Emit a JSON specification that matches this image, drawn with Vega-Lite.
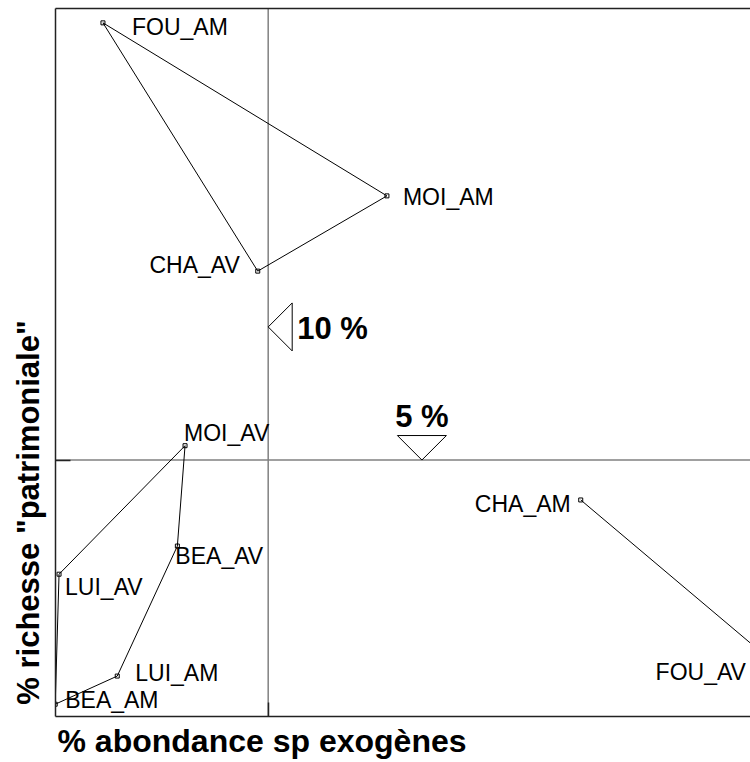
{
  "$schema": "https://vega.github.io/schema/vega-lite/v6.json",
  "width": 695,
  "height": 708,
  "autosize": {"type": "none"},
  "padding": {"left": 55, "top": 8, "right": 0, "bottom": 46},
  "background": "white",
  "config": {"view": {"stroke": null}, "text": {"font": "Liberation Sans", "fontSize": 23, "color": "black"}},
  "resolve": {"axis": {"x": "independent", "y": "independent"}},
  "datasets": {
    "pts": [
      {"name": "FOU_AM", "x": 2.25, "y": 13.54},
      {"name": "MOI_AM", "x": 15.57, "y": 10.16},
      {"name": "CHA_AV", "x": 9.51, "y": 8.69},
      {"name": "MOI_AV", "x": 6.10, "y": 5.28},
      {"name": "BEA_AV", "x": 5.74, "y": 3.32},
      {"name": "LUI_AV", "x": 0.19, "y": 2.77},
      {"name": "LUI_AM", "x": 2.92, "y": 0.78},
      {"name": "BEA_AM", "x": 0.01, "y": 0.23},
      {"name": "CHA_AM", "x": 24.66, "y": 4.22},
      {"name": "FOU_AV", "x": 33.77, "y": 1.02}
    ],
    "links": [
      {"path": "A", "ord": 1, "name": "FOU_AM"},
      {"path": "A", "ord": 2, "name": "MOI_AM"},
      {"path": "A", "ord": 3, "name": "CHA_AV"},
      {"path": "A", "ord": 4, "name": "FOU_AM"},
      {"path": "B", "ord": 1, "name": "MOI_AV"},
      {"path": "B", "ord": 2, "name": "BEA_AV"},
      {"path": "B", "ord": 3, "name": "LUI_AM"},
      {"path": "B", "ord": 4, "name": "BEA_AM"},
      {"path": "B", "ord": 5, "name": "LUI_AV"},
      {"path": "B", "ord": 6, "name": "MOI_AV"},
      {"path": "C", "ord": 1, "name": "CHA_AM"},
      {"path": "C", "ord": 2, "name": "FOU_AV"}
    ],
    "thresholds": [
      {"label": "10 %", "x": 10, "y": 7.6},
      {"label": "5 %", "x": 17.21, "y": 5}
    ]
  },
  "layer": [
    {
      "data": {"values": [{"v": 10}]},
      "mark": {"type": "rule", "color": "#808080", "strokeWidth": 1.5},
      "encoding": {
        "x": {"field": "v", "type": "quantitative", "scale": {"domain": [0, 32.6], "nice": false, "zero": false},
          "axis": {"orient": "top", "domain": true, "domainColor": "#222", "domainWidth": 1.5, "ticks": false, "labels": false, "grid": false, "title": null, "zindex": 1}}
      }
    },
    {
      "data": {"values": [{"v": 5}]},
      "mark": {"type": "rule", "color": "#808080", "strokeWidth": 1.5},
      "encoding": {
        "y": {"field": "v", "type": "quantitative", "scale": {"domain": [0, 13.83], "nice": false, "zero": false},
          "axis": {"orient": "left", "values": [5], "domain": true, "domainColor": "#222", "domainWidth": 1.5, "ticks": true, "tickSize": -15, "tickColor": "#222", "tickWidth": 1.5, "labels": false, "grid": false, "zindex": 1,
            "title": "% richesse \"patrimoniale\"", "titleFont": "Liberation Sans", "titleFontSize": 31, "titleFontWeight": "bold", "titleColor": "black", "titleAngle": -90, "titleX": -16.5, "titleY": 504, "titleAlign": "center", "titleBaseline": "alphabetic", "titleAnchor": null}}
      }
    },
    {
      "data": {"name": "links"},
      "transform": [{"lookup": "name", "from": {"data": {"name": "pts"}, "key": "name", "fields": ["x", "y"]}}],
      "mark": {"type": "line", "color": "black", "strokeWidth": 1, "clip": true},
      "encoding": {
        "x": {"field": "x", "type": "quantitative", "axis": null},
        "y": {"field": "y", "type": "quantitative", "axis": null},
        "detail": {"field": "path"},
        "order": {"field": "ord", "type": "quantitative"}
      }
    },
    {
      "data": {"name": "pts"},
      "mark": {"type": "point", "shape": "square", "size": 16, "filled": false, "stroke": "black", "strokeWidth": 1, "opacity": 1, "clip": true},
      "encoding": {
        "x": {"field": "x", "type": "quantitative",
          "axis": {"orient": "bottom", "values": [10], "domain": true, "domainColor": "#222", "domainWidth": 1.5, "ticks": true, "tickSize": -14, "tickColor": "#222", "tickWidth": 1.5, "labels": false, "grid": false, "zindex": 1,
            "title": "% abondance sp exogènes", "titleFont": "Liberation Sans", "titleFontSize": 32, "titleFontWeight": "bold", "titleColor": "black", "titleX": 2, "titleY": 35, "titleAlign": "left", "titleBaseline": "alphabetic", "titleAnchor": null}},
        "y": {"field": "y", "type": "quantitative", "axis": null}
      }
    },
    {
      "data": {"name": "thresholds"},
      "transform": [{"filter": "datum.label === '10 %'"}],
      "layer": [
        {"mark": {"type": "point", "shape": "M0,0 L1,-1 L1,1 Z", "size": 2304, "filled": false, "stroke": "black", "strokeWidth": 1, "opacity": 1},
         "encoding": {"x": {"field": "x", "type": "quantitative", "axis": null}, "y": {"field": "y", "type": "quantitative", "axis": null}}},
        {"mark": {"type": "text", "align": "left", "baseline": "alphabetic", "dx": 29, "dy": 12, "fontSize": 31, "fontWeight": "bold"},
         "encoding": {"x": {"field": "x", "type": "quantitative", "axis": null}, "y": {"field": "y", "type": "quantitative", "axis": null}, "text": {"field": "label"}}}
      ]
    },
    {
      "data": {"name": "thresholds"},
      "transform": [{"filter": "datum.label === '5 %'"}],
      "layer": [
        {"mark": {"type": "point", "shape": "M0,0 L-1,-1 L1,-1 Z", "size": 2401, "filled": false, "stroke": "black", "strokeWidth": 1, "opacity": 1},
         "encoding": {"x": {"field": "x", "type": "quantitative", "axis": null}, "y": {"field": "y", "type": "quantitative", "axis": null}}},
        {"mark": {"type": "text", "align": "center", "baseline": "alphabetic", "dx": 0, "dy": -33, "fontSize": 31, "fontWeight": "bold"},
         "encoding": {"x": {"field": "x", "type": "quantitative", "axis": null}, "y": {"field": "y", "type": "quantitative", "axis": null}, "text": {"field": "label"}}}
      ]
    },
    {"data": {"name": "pts"}, "transform": [{"filter": "datum.name === 'FOU_AM'"}],
     "mark": {"type": "text", "align": "left", "baseline": "alphabetic", "dx": 29, "dy": 12},
     "encoding": {"x": {"field": "x", "type": "quantitative", "axis": null}, "y": {"field": "y", "type": "quantitative", "axis": null}, "text": {"field": "name"}}},
    {"data": {"name": "pts"}, "transform": [{"filter": "datum.name === 'MOI_AM'"}],
     "mark": {"type": "text", "align": "left", "baseline": "alphabetic", "dx": 16, "dy": 9},
     "encoding": {"x": {"field": "x", "type": "quantitative", "axis": null}, "y": {"field": "y", "type": "quantitative", "axis": null}, "text": {"field": "name"}}},
    {"data": {"name": "pts"}, "transform": [{"filter": "datum.name === 'MOI_AV'"}],
     "mark": {"type": "text", "align": "left", "baseline": "alphabetic", "dx": -1, "dy": -5},
     "encoding": {"x": {"field": "x", "type": "quantitative", "axis": null}, "y": {"field": "y", "type": "quantitative", "axis": null}, "text": {"field": "name"}}},
    {"data": {"name": "pts"}, "transform": [{"filter": "datum.name === 'BEA_AV'"}],
     "mark": {"type": "text", "align": "left", "baseline": "alphabetic", "dx": -2, "dy": 18},
     "encoding": {"x": {"field": "x", "type": "quantitative", "axis": null}, "y": {"field": "y", "type": "quantitative", "axis": null}, "text": {"field": "name"}}},
    {"data": {"name": "pts"}, "transform": [{"filter": "datum.name === 'LUI_AV'"}],
     "mark": {"type": "text", "align": "left", "baseline": "alphabetic", "dx": 6, "dy": 21},
     "encoding": {"x": {"field": "x", "type": "quantitative", "axis": null}, "y": {"field": "y", "type": "quantitative", "axis": null}, "text": {"field": "name"}}},
    {"data": {"name": "pts"}, "transform": [{"filter": "datum.name === 'LUI_AM'"}],
     "mark": {"type": "text", "align": "left", "baseline": "alphabetic", "dx": 18, "dy": 5},
     "encoding": {"x": {"field": "x", "type": "quantitative", "axis": null}, "y": {"field": "y", "type": "quantitative", "axis": null}, "text": {"field": "name"}}},
    {"data": {"name": "pts"}, "transform": [{"filter": "datum.name === 'BEA_AM'"}],
     "mark": {"type": "text", "align": "left", "baseline": "alphabetic", "dx": 10, "dy": 4},
     "encoding": {"x": {"field": "x", "type": "quantitative", "axis": null}, "y": {"field": "y", "type": "quantitative", "axis": null}, "text": {"field": "name"}}},
    {"data": {"name": "pts"}, "transform": [{"filter": "datum.name === 'CHA_AV'"}],
     "mark": {"type": "text", "align": "right", "baseline": "alphabetic", "dx": -18, "dy": 2},
     "encoding": {"x": {"field": "x", "type": "quantitative", "axis": null}, "y": {"field": "y", "type": "quantitative", "axis": null}, "text": {"field": "name"}}},
    {"data": {"name": "pts"}, "transform": [{"filter": "datum.name === 'CHA_AM'"}],
     "mark": {"type": "text", "align": "right", "baseline": "alphabetic", "dx": -10, "dy": 12},
     "encoding": {"x": {"field": "x", "type": "quantitative", "axis": null}, "y": {"field": "y", "type": "quantitative", "axis": null}, "text": {"field": "name"}}},
    {"data": {"name": "pts"}, "transform": [{"filter": "datum.name === 'FOU_AV'"}],
     "mark": {"type": "text", "align": "right", "baseline": "alphabetic", "dx": -29, "dy": 16},
     "encoding": {"x": {"field": "x", "type": "quantitative", "axis": null}, "y": {"field": "y", "type": "quantitative", "axis": null}, "text": {"field": "name"}}}
  ]
}
